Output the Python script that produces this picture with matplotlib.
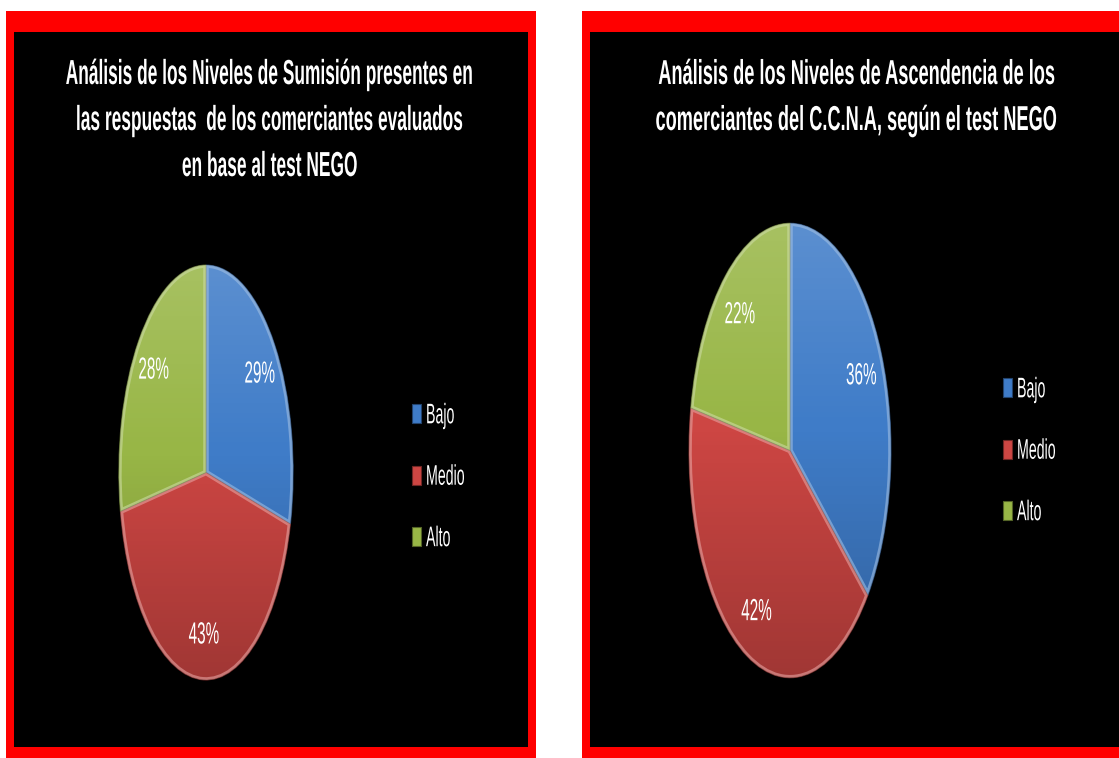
import matplotlib
matplotlib.use('Agg')
import matplotlib.pyplot as plt
import numpy as np
from matplotlib.patches import Rectangle, Circle, Wedge
from matplotlib.patheffects import AbstractPathEffect
from matplotlib.transforms import Affine2D
from matplotlib.colors import to_rgb
from matplotlib.legend_handler import HandlerPatch

plt.rcParams['font.family'] = ['Liberation Sans', 'DejaVu Sans']

W, H = 1119, 758

categories = ['Bajo', 'Medio', 'Alto']
sumision = [29, 43, 28]
ascendencia = [36, 42, 22]
colors = ['#3f7cc8', '#cd4643', '#98b646']

title_sumision = ['Análisis de los Niveles de Sumisión presentes en',
                  'las respuestas  de los comerciantes evaluados',
                  'en base al test NEGO']
title_ascendencia = ['Análisis de los Niveles de Ascendencia de los',
                     'comerciantes del C.C.N.A, según el test NEGO']


class Tall(AbstractPathEffect):
    """Stretch glyphs vertically about the baseline (or the ink centre)."""

    def __init__(self, sy=2.0, about='baseline'):
        super().__init__()
        self.sy = sy
        self.about = about

    def draw_path(self, renderer, gc, tpath, affine, rgbFace=None):
        py = 0
        if self.about == 'center':
            ext = tpath.get_extents()
            py = (ext.y0 + ext.y1) / 2
        x0, y0 = affine.transform((0, py))
        tall = Affine2D().translate(-x0, -y0).scale(1, self.sy).translate(x0, y0)
        renderer.draw_path(gc, tpath, affine + tall, rgbFace)


def lighter(c, k=0.35):
    r, g, b = to_rgb(c)
    return (r + (1 - r) * k, g + (1 - g) * k, b + (1 - b) * k)


def darker(c, k=0.45):
    r, g, b = to_rgb(c)
    return (r * (1 - k), g * (1 - k), b * (1 - k))


fig = plt.figure(figsize=(W / 100, H / 100), dpi=100, facecolor='white')

# full-figure axes in pixel units (y down) for the frames and titles
bg = fig.add_axes([0, 0, 1, 1])
bg.set_xlim(0, W)
bg.set_ylim(H, 0)
bg.axis('off')

bg.add_patch(Rectangle((6, 11), 530, 760, facecolor='#ff0000', edgecolor='none'))
bg.add_patch(Rectangle((14, 32), 514, 714.5, facecolor='black', edgecolor='none'))
bg.add_patch(Rectangle((582, 11), 600, 760, facecolor='#ff0000', edgecolor='none'))
bg.add_patch(Rectangle((590, 32), 600, 714.5, facecolor='black', edgecolor='none'))

title_kw = dict(color='white', fontweight='bold', ha='center', va='baseline')
for i, line in enumerate(title_sumision):
    bg.text(270, 84 + 46 * i, line, fontsize=12.5, path_effects=[Tall(2.0)], **title_kw)
for i, line in enumerate(title_ascendencia):
    bg.text(856, 84 + 46 * i, line, fontsize=13.1, path_effects=[Tall(1.9)], **title_kw)


def px_axes(x0, y0, x1, y1):
    return fig.add_axes([x0 / W, 1 - y1 / H, (x1 - x0) / W, (y1 - y0) / H])


# vertical shading: light at the top, darker towards the bottom
t = np.linspace(0, 1, 256)[:, None]
shade = np.zeros((256, 1, 4))
shade[..., :3] = np.where(t < 0.45, 1.0, 0.0)[..., None]
shade[..., 3] = np.where(t < 0.45, 0.15 * (1 - t / 0.45), 0.22 * (t - 0.45) / 0.55)


def tall_key(legend, orig_handle, xdescent, ydescent, width, height, fontsize):
    # legend key from the baseline up to the stretched cap height
    return Rectangle((-xdescent, 0), width, fontsize * 1.34)


def draw_pie(box, values, legend_at):
    ax = px_axes(*box)
    wedges, _, autotexts = ax.pie(values, colors=colors, startangle=90, counterclock=False,
                                  autopct='%.0f%%', pctdistance=0.78,
                                  wedgeprops=dict(linewidth=0.8),
                                  textprops=dict(color='white', fontsize=11))
    for w, c in zip(wedges, colors):
        w.set_edgecolor(darker(c))
        bevel = Wedge(w.center, w.r, w.theta1, w.theta2, facecolor='none',
                      edgecolor=lighter(c, 0.5), linewidth=4, alpha=0.6, zorder=2.5)
        ax.add_patch(bevel)
        bevel.set_clip_path(w)
    for a in autotexts:
        a.set_path_effects([Tall(2.0, 'center')])
        a.set_zorder(4)
    im = ax.imshow(shade, extent=(-1, 1, -1, 1), aspect='auto', zorder=2)
    im.set_clip_path(Circle((0, 0), 1, transform=ax.transData))
    ax.set_aspect('auto')
    ax.set_xlim(-1.01, 1.01)
    ax.set_ylim(-1.01, 1.01)
    ax.axis('off')

    leg = ax.legend(wedges, categories, loc='center left', bbox_to_anchor=legend_at,
                    bbox_transform=bg.transData, frameon=False, fontsize=10.2,
                    handlelength=0.64, handleheight=1.34, handletextpad=0.35,
                    labelspacing=3.22, borderpad=0, borderaxespad=0, labelcolor='white',
                    handler_map={Wedge: HandlerPatch(patch_func=tall_key)})
    for txt in leg.get_texts():
        txt.set_path_effects([Tall(2.0)])


draw_pie((118, 263, 294, 682), sumision, (412, 480))
draw_pie((688, 221, 892, 680), ascendencia, (1003, 454))

fig.savefig('out.png', dpi=100, facecolor='white')
